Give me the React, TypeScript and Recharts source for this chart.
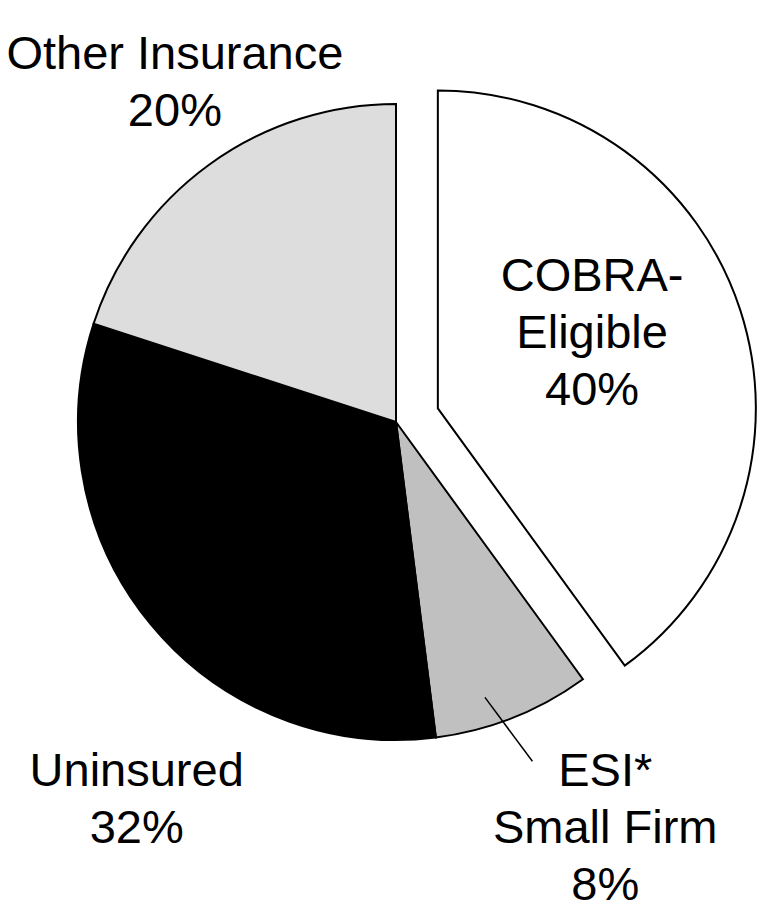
import { PieChart, Pie, Cell, Sector } from 'recharts';

const categories = ['COBRA-Eligible', 'ESI* Small Firm', 'Uninsured', 'Other Insurance'];
const shares = [40, 8, 32, 20];
const nameLines = [['COBRA-', 'Eligible'], ['ESI*', 'Small Firm'], ['Uninsured'], ['Other Insurance']];

const fills = ['#ffffff', '#c0c0c0', '#000000', '#dddddd'];
const explode = [44, 0, 0, 0];
// label block centre: radius as a multiple of the pie radius, angle in degrees (ccw from 3 o'clock)
const labelPos = [
  { r: 0.68, a: 24.9 },
  { r: 1.43, a: -62.6 },
  { r: 1.436, a: -124.6 },
  { r: 1.28, a: 122.9 },
];
// leader line for the small slice
const leader = { from: { r: 0.91, a: -72.1 }, to: { r: 1.15, a: -68.1 } };

const data = categories.map((name, i) => ({ name, value: shares[i] }));

const RAD = Math.PI / 180;
const LINE = 57;
const FONT = 47;

const polar = (cx: number, cy: number, r: number, a: number) => ({
  x: cx + r * Math.cos(-a * RAD),
  y: cy + r * Math.sin(-a * RAD),
});

const idx = (p: any) => {
  const n = p.name ?? p.payload?.name;
  const i = categories.indexOf(n);
  return i >= 0 ? i : p.index ?? 0;
};

function renderSlice(props: any) {
  const { cx, cy, midAngle, innerRadius, outerRadius, startAngle, endAngle } = props;
  const i = idx(props);
  const o = polar(0, 0, explode[i] ?? 0, midAngle);
  return (
    <Sector
      cx={cx + o.x}
      cy={cy + o.y}
      innerRadius={innerRadius}
      outerRadius={outerRadius}
      startAngle={startAngle}
      endAngle={endAngle}
      fill={fills[i]}
      stroke="#000"
      strokeWidth={2}
    />
  );
}

function renderLabel(props: any) {
  const { cx, cy, outerRadius } = props;
  const i = idx(props);
  const p = labelPos[i];
  const c = polar(cx, cy, outerRadius * p.r, p.a);
  const lines = [...nameLines[i], `${shares[i]}%`];
  const first = c.y - ((lines.length - 1) * LINE) / 2 + 17;
  let line = null;
  if (i === 1) {
    const a = polar(cx, cy, outerRadius * leader.from.r, leader.from.a);
    const b = polar(cx, cy, outerRadius * leader.to.r, leader.to.a);
    line = <line x1={a.x} y1={a.y} x2={b.x} y2={b.y} stroke="#000" strokeWidth={1.5} />;
  }
  return (
    <g key={`lbl-${i}`}>
      {line}
      <text
        x={c.x}
        y={first}
        textAnchor="middle"
        fill="#000"
        fontSize={FONT}
        fontFamily="'Liberation Sans', Arial, sans-serif"
      >
        {lines.map((t, k) => (
          <tspan key={k} x={c.x} y={first + k * LINE}>
            {t}
          </tspan>
        ))}
      </text>
    </g>
  );
}

export default function App() {
  return (
    <div style={{ position: 'absolute', left: 0, top: 0, width: 761, height: 905, background: '#fff' }}>
      <PieChart width={761} height={905} margin={{ top: 0, right: 0, bottom: 0, left: 0 }}>
        <Pie
          data={data}
          dataKey="value"
          nameKey="name"
          cx={396}
          cy={422}
          outerRadius={318}
          startAngle={90}
          endAngle={-270}
          stroke="#000"
          strokeWidth={2}
          shape={renderSlice}
          label={renderLabel}
          labelLine={false}
          isAnimationActive={false}
        >
          {data.map((d, i) => (
            <Cell key={d.name} fill={fills[i]} />
          ))}
        </Pie>
      </PieChart>
    </div>
  );
}
